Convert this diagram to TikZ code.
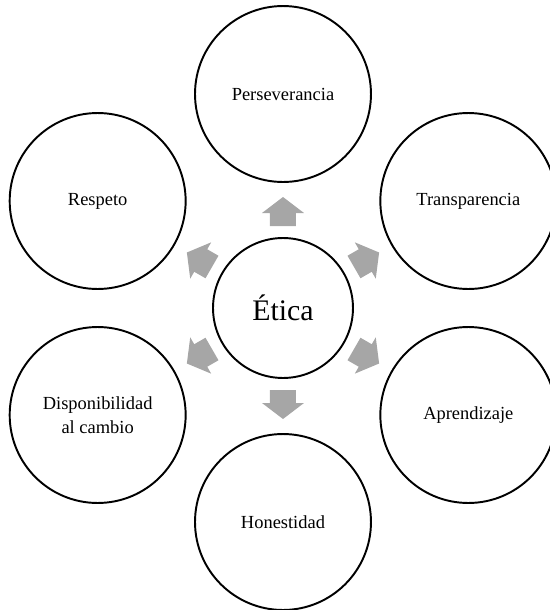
\documentclass[tikz,border=0pt]{standalone}
\usepackage{fontspec}
\setmainfont{Liberation Serif}
\usetikzlibrary{positioning}

\definecolor{arrowgray}{HTML}{A6A6A6}

\tikzset{
  value/.style={circle, draw=black, line width=1.1pt, minimum size=3.52cm,
    inner sep=0pt, align=center, font=\fontsize{10.5}{14}\selectfont},
  core/.style={circle, draw=black, line width=1.1pt, minimum size=2.8cm,
    inner sep=0pt, font=\fontsize{17}{20}\selectfont}
}

\begin{document}
\begin{tikzpicture}[x=0.02cm, y=0.02cm]

  % ---------------------------------------------------------------- frame
  % 550 x 610 px, centre circle at the origin; the right circle is cut.
  \useasboundingbox (-283,-302) rectangle (267,308);

  % ---------------------------------------------------------- centre node
  \node[core] (etica) at (0,0) {Ética};

  % ---------------------------------------------------- the six values
  \node[value] (perseverancia) at (90:214)  {Perseverancia};
  \node[value] (transparencia) at (30:214)  {Transparencia};
  \node[value] (aprendizaje)   at (-30:214) {Aprendizaje};
  \node[value] (honestidad)    at (-90:214) {Honestidad};
  \node[value] (disponible)    at (210:214) {Disponibilidad\\al cambio};
  \node[value] (respeto)       at (150:214) {Respeto};

  % ------------------------------------------------------- block arrows
  % One short fat arrow in each gap, pointing outwards.
  \foreach \a in {90, 30, -30, -90, 210, 150}
    \fill[arrowgray, rotate=\a]
      (82,-13) -- (95,-13) -- (95,-21) -- (111,0) -- (95,21) -- (95,13)
      -- (82,13) -- cycle;

\end{tikzpicture}
\end{document}
